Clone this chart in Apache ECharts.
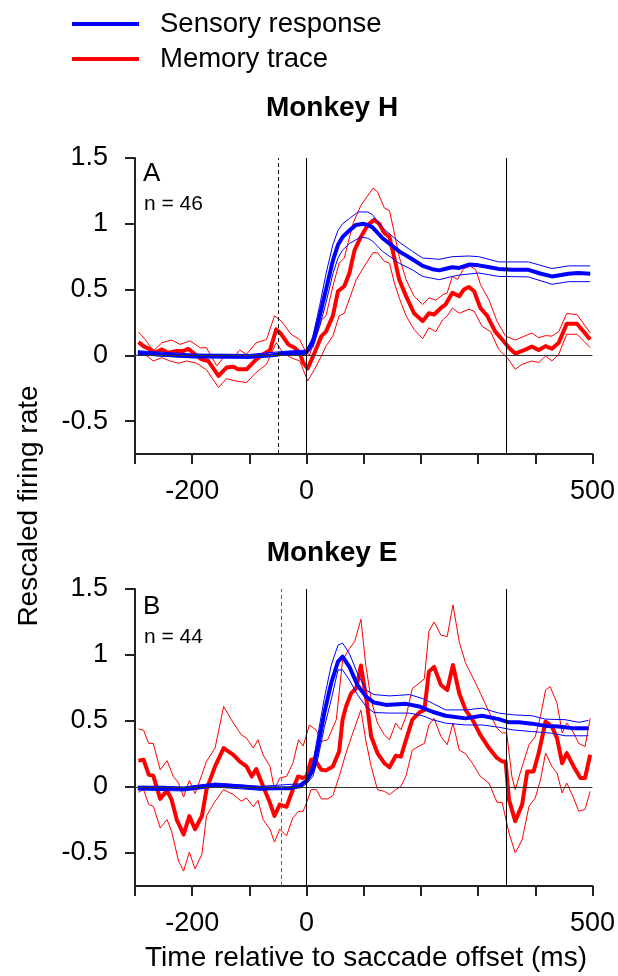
<!DOCTYPE html>
<html>
<head>
<meta charset="utf-8">
<script src="https://cdn.jsdelivr.net/npm/echarts@6/dist/echarts.min.js"></script>
<style>
  html, body { margin: 0; padding: 0; background: #fff; }
  #chart { width: 618px; height: 976px; }
</style>
</head>
<body>
<div id="chart"></div>
<script>
// Time axis (ms relative to saccade offset) and value axis settings
const timeTicks = [-300, -200, -100, 0, 100, 200, 300, 400, 500];
const timeLabels = [-200, 0, 500];
const rateTicks = [-0.5, 0, 0.5, 1, 1.5];

// Event markers (ms): dashed = saccade onset, solid = saccade offset and probe
const eventsH = { dashed: -49, solid: [0, 350] };
const eventsE = { dashed: -44, solid: [0, 350] };

// ---- Monkey H (panel A) ----
const sensMeanH = [[-295,0.02],[-250,0.005],[-200,-0.005],[-150,-0.005],[-100,-0.008],[-60,0.0],[-40,0.015],[-20,0.02],[-5,0.02],[0,0.025],[11,0.1],[23,0.3],[34,0.5],[46,0.72],[55,0.84],[63,0.9],[75,0.95],[86,0.99],[100,1.0],[107,0.99],[115,0.975],[133,0.89],[162,0.79],[185,0.73],[203,0.68],[220,0.655],[232,0.646],[245,0.66],[255,0.67],[267,0.664],[284,0.69],[301,0.684],[320,0.67],[336,0.657],[360,0.65],[388,0.65],[410,0.62],[429,0.6],[445,0.61],[458,0.62],[475,0.625],[496,0.62]];
const sensUpH = [[-295,0.035],[-200,0.01],[-100,0.007],[-40,0.03],[0,0.04],[11,0.14],[23,0.38],[34,0.62],[46,0.84],[55,0.95],[63,1.0],[75,1.04],[90,1.09],[107,1.09],[115,1.07],[133,0.97],[162,0.86],[185,0.79],[203,0.74],[232,0.73],[255,0.75],[284,0.755],[301,0.75],[336,0.71],[388,0.71],[429,0.66],[458,0.68],[496,0.68]];
const sensLoH = [[-295,0.005],[-200,-0.02],[-100,-0.023],[-40,0.0],[0,0.01],[11,0.06],[23,0.22],[34,0.4],[46,0.62],[55,0.74],[63,0.8],[75,0.85],[95,0.9],[107,0.89],[115,0.87],[133,0.79],[162,0.7],[185,0.65],[203,0.6],[232,0.575],[255,0.6],[267,0.61],[301,0.626],[336,0.6],[388,0.596],[429,0.54],[458,0.56],[496,0.56]];

const memMeanH = [[-294,0.1],[-284,0.066],[-273,0.045],[-265,0.02],[-253,0.045],[-242,0.02],[-227,0.033],[-215,0.033],[-207,0.05],[-195,0.008],[-184,-0.03],[-172,-0.043],[-154,-0.157],[-140,-0.093],[-128,-0.086],[-120,-0.106],[-105,-0.106],[-88,-0.03],[-76,0.008],[-64,0.038],[-53,0.197],[-44,0.16],[-32,0.083],[-21,0.058],[-12,0.02],[-6,-0.056],[2,-0.1],[5,-0.1],[14,0.02],[26,0.146],[34,0.18],[46,0.3],[55,0.487],[66,0.525],[75,0.626],[84,0.8],[95,0.9],[107,0.99],[118,1.03],[127,1.0],[136,0.93],[145,0.9],[153,0.75],[162,0.576],[174,0.45],[188,0.32],[203,0.26],[214,0.32],[223,0.31],[235,0.36],[243,0.386],[255,0.475],[267,0.45],[275,0.5],[284,0.52],[293,0.487],[304,0.36],[316,0.3],[330,0.18],[342,0.12],[354,0.058],[365,0.013],[377,0.033],[394,0.066],[406,0.04],[418,0.07],[429,0.05],[441,0.096],[455,0.24],[473,0.24],[496,0.12]];
const memUpH = [[-294,0.177],[-282,0.12],[-268,0.033],[-253,0.096],[-236,0.116],[-221,0.083],[-204,0.11],[-186,0.058],[-175,0.058],[-157,-0.08],[-143,-0.005],[-128,-0.018],[-117,0.04],[-105,0.008],[-88,0.096],[-70,0.12],[-56,0.3],[-44,0.26],[-27,0.16],[-12,0.12],[-3,0.04],[5,0.0],[14,0.12],[26,0.27],[34,0.3],[46,0.525],[57,0.7],[66,0.74],[81,1.0],[95,1.14],[116,1.27],[124,1.245],[136,1.12],[145,1.1],[153,0.94],[162,0.75],[174,0.576],[188,0.45],[203,0.386],[214,0.437],[226,0.42],[238,0.46],[246,0.475],[255,0.6],[264,0.576],[275,0.66],[287,0.677],[296,0.65],[304,0.54],[319,0.42],[333,0.26],[348,0.146],[365,0.116],[394,0.17],[406,0.134],[418,0.15],[429,0.146],[441,0.18],[455,0.318],[473,0.31],[496,0.17]];
const memLoH = [[-294,0.02],[-279,-0.005],[-268,-0.043],[-253,-0.018],[-239,-0.043],[-224,-0.06],[-210,-0.043],[-192,-0.06],[-175,-0.11],[-154,-0.245],[-140,-0.177],[-125,-0.194],[-105,-0.207],[-88,-0.13],[-70,-0.068],[-53,0.096],[-41,0.02],[-27,-0.018],[-12,-0.043],[2,-0.194],[5,-0.2],[14,-0.106],[26,-0.005],[34,0.07],[46,0.146],[57,0.3],[66,0.32],[87,0.576],[101,0.677],[116,0.78],[124,0.78],[136,0.715],[145,0.7],[153,0.56],[162,0.437],[174,0.3],[188,0.197],[203,0.126],[214,0.21],[226,0.18],[238,0.27],[246,0.3],[255,0.36],[267,0.32],[284,0.35],[293,0.336],[307,0.22],[322,0.18],[336,0.045],[351,-0.018],[365,-0.106],[377,-0.068],[394,-0.043],[406,-0.055],[418,-0.005],[429,-0.043],[441,0.008],[455,0.16],[473,0.16],[496,0.058]];

// ---- Monkey E (panel B) ----
const sensMeanE = [[-295,-0.008],[-250,-0.005],[-215,-0.015],[-160,0.015],[-120,0.005],[-80,-0.01],[-30,-0.01],[-10,0.01],[-6,0.03],[0,0.043],[11,0.13],[20,0.307],[31,0.56],[43,0.786],[55,0.95],[63,0.987],[75,0.91],[89,0.773],[104,0.685],[118,0.64],[139,0.622],[174,0.63],[197,0.61],[220,0.57],[243,0.54],[278,0.52],[307,0.54],[336,0.514],[354,0.49],[371,0.49],[394,0.48],[418,0.463],[441,0.458],[464,0.446],[493,0.446]];
const sensUpE = [[-295,0.007],[-215,0.0],[-160,0.03],[-80,0.005],[-10,0.025],[0,0.06],[11,0.18],[20,0.4],[31,0.67],[43,0.92],[55,1.075],[63,1.09],[75,1.01],[89,0.86],[104,0.735],[118,0.7],[145,0.69],[180,0.7],[203,0.67],[220,0.635],[243,0.584],[278,0.584],[307,0.597],[336,0.56],[360,0.547],[394,0.54],[418,0.514],[452,0.51],[476,0.49],[493,0.504]];
const sensLoE = [[-295,-0.023],[-215,-0.03],[-160,0.0],[-80,-0.025],[-10,-0.005],[0,0.025],[11,0.08],[20,0.22],[31,0.45],[43,0.66],[55,0.887],[63,0.887],[75,0.81],[89,0.7],[104,0.61],[118,0.564],[145,0.56],[180,0.56],[203,0.54],[220,0.51],[243,0.484],[278,0.47],[307,0.47],[336,0.453],[360,0.433],[394,0.42],[429,0.408],[452,0.388],[476,0.388],[493,0.388]];

const memMeanE = [[-294,0.2],[-285,0.207],[-276,0.093],[-268,0.086],[-256,-0.09],[-244,-0.025],[-236,-0.096],[-227,-0.247],[-215,-0.36],[-205,-0.22],[-195,-0.32],[-183,-0.22],[-175,-0.02],[-160,0.156],[-145,0.295],[-128,0.244],[-117,0.194],[-105,0.156],[-96,0.08],[-88,0.136],[-76,0.005],[-64,-0.12],[-56,-0.22],[-47,-0.133],[-35,-0.15],[-24,-0.02],[-15,0.08],[-6,0.068],[0,0.08],[8,0.207],[14,0.21],[26,0.13],[34,0.126],[46,0.156],[57,0.27],[63,0.51],[69,0.61],[78,0.71],[87,0.75],[95,0.92],[104,0.685],[113,0.383],[124,0.257],[136,0.18],[145,0.15],[156,0.237],[165,0.23],[174,0.358],[185,0.51],[197,0.564],[206,0.584],[214,0.874],[223,0.91],[235,0.773],[246,0.735],[256,0.924],[267,0.71],[278,0.584],[290,0.51],[304,0.395],[319,0.295],[333,0.22],[342,0.194],[348,0.194],[354,-0.096],[365,-0.26],[377,-0.133],[386,0.118],[397,0.118],[406,0.257],[418,0.496],[429,0.458],[438,0.37],[447,0.18],[455,0.257],[467,0.156],[479,0.068],[487,0.068],[496,0.244]];
const memUpE = [[-294,0.44],[-285,0.43],[-276,0.33],[-268,0.33],[-256,0.13],[-244,0.2],[-233,0.08],[-224,0.03],[-215,-0.076],[-205,0.05],[-195,-0.05],[-183,0.093],[-175,0.194],[-160,0.295],[-145,0.61],[-128,0.484],[-114,0.395],[-105,0.37],[-93,0.295],[-85,0.358],[-76,0.244],[-64,0.156],[-56,-0.02],[-47,0.068],[-35,0.08],[-24,0.18],[-14,0.358],[-6,0.31],[5,0.47],[8,0.47],[17,0.43],[26,0.345],[37,0.358],[52,0.51],[63,0.96],[75,1.05],[84,1.1],[95,1.27],[104,0.91],[113,0.66],[124,0.484],[136,0.395],[145,0.358],[156,0.484],[165,0.433],[174,0.534],[185,0.748],[197,0.786],[206,0.82],[214,1.18],[223,1.25],[235,1.15],[246,1.14],[256,1.38],[267,1.1],[278,0.94],[290,0.836],[304,0.71],[319,0.57],[333,0.446],[342,0.41],[350,0.41],[359,0.08],[365,-0.02],[377,0.156],[389,0.32],[400,0.383],[409,0.534],[418,0.735],[426,0.76],[438,0.635],[447,0.41],[455,0.484],[467,0.41],[476,0.33],[487,0.307],[496,0.52]];
const memLoE = [[-294,-0.04],[-285,-0.02],[-276,-0.133],[-268,-0.146],[-256,-0.31],[-244,-0.247],[-236,-0.335],[-224,-0.56],[-215,-0.637],[-205,-0.494],[-195,-0.62],[-183,-0.51],[-175,-0.22],[-160,-0.108],[-145,-0.02],[-128,-0.058],[-114,-0.108],[-105,-0.083],[-93,-0.15],[-85,-0.1],[-76,-0.247],[-64,-0.32],[-56,-0.418],[-47,-0.32],[-35,-0.37],[-24,-0.234],[-14,-0.184],[-6,-0.184],[0,-0.12],[8,-0.02],[17,-0.02],[26,-0.09],[37,-0.09],[46,-0.065],[57,0.08],[69,0.257],[81,0.41],[95,0.584],[104,0.345],[113,0.156],[124,-0.02],[136,-0.033],[145,-0.058],[156,-0.02],[165,0.005],[174,0.086],[185,0.28],[197,0.31],[206,0.33],[214,0.47],[223,0.52],[235,0.383],[246,0.32],[256,0.484],[267,0.28],[278,0.252],[290,0.18],[304,0.08],[319,0.03],[333,-0.116],[342,-0.116],[354,-0.348],[365,-0.5],[377,-0.4],[389,-0.146],[400,-0.083],[409,0.055],[418,0.257],[429,0.156],[438,0.106],[447,-0.045],[455,0.03],[467,-0.083],[476,-0.184],[487,-0.17],[496,-0.033]];

const BLUE = '#0000ff';
const RED = '#ff0000';
const FONT = "'Liberation Sans', Arial, Helvetica, sans-serif";

function trace(data, color, width, idx, name) {
  return {
    type: 'line', name: name, xAxisIndex: idx, yAxisIndex: idx,
    data: data, showSymbol: false, symbol: 'none', silent: true,
    lineStyle: { color: color, width: width, join: 'round' },
    itemStyle: { color: color },
    emphasis: { disabled: true }
  };
}

function eventLines(events, idx, dashColor) {
  // zero baseline plus the event markers of one panel
  return {
    type: 'line', name: 'events' + idx, xAxisIndex: idx, yAxisIndex: idx,
    data: [], silent: true, z: 1,
    markLine: {
      silent: true, symbol: 'none', animation: false,
      label: { show: false },
      data: [
        { yAxis: 0, lineStyle: { color: '#333', width: 1, type: 'solid' } },
        { xAxis: events.dashed, lineStyle: { color: dashColor, width: 1, type: [4, 3] } }
      ].concat(events.solid.map(t => ({ xAxis: t, lineStyle: { color: '#000', width: 1, type: 'solid' } })))
    }
  };
}

function xAxisFor(idx) {
  return {
    type: 'value', gridIndex: idx, min: -300, max: 500, interval: 100,
    axisLine: { onZero: false, lineStyle: { color: '#222', width: 2 } },
    axisTick: { show: true, length: 10, lineStyle: { color: '#222', width: 2 }, customValues: timeTicks },
    axisLabel: {
      fontFamily: FONT, fontSize: 27, color: '#000', margin: 24,
      formatter: v => (timeLabels.indexOf(v) >= 0 ? String(v) : '')
    },
    splitLine: { show: false }
  };
}

function yAxisFor(idx) {
  return {
    type: 'value', gridIndex: idx, min: -0.75, max: 1.5,
    axisLine: { show: true, onZero: false, lineStyle: { color: '#222', width: 2 } },
    axisTick: { show: true, length: 10, lineStyle: { color: '#222', width: 2 }, customValues: rateTicks },
    axisLabel: {
      fontFamily: FONT, fontSize: 27, color: '#000', margin: 27, customValues: rateTicks,
      formatter: v => (rateTicks.indexOf(v) >= 0 ? String(v) : '')
    },
    splitLine: { show: false }
  };
}

function label(x, y, str, font, align, extra) {
  return Object.assign({
    type: 'text', x: x, y: y, silent: true,
    style: { text: str, font: font + ' ' + FONT, fill: '#000', align: align, verticalAlign: 'middle' }
  }, extra || {});
}

const chart = echarts.init(document.getElementById('chart'), null, { renderer: 'canvas' });
chart.setOption({
  animation: false,
  backgroundColor: '#fff',
  legend: {
    data: ['Sensory response', 'Memory trace'],
    orient: 'vertical', left: 72, top: 10, padding: 0,
    icon: 'rect', itemWidth: 67, itemHeight: 4, itemGap: 7,
    selectedMode: false,
    textStyle: { fontFamily: FONT, fontSize: 27.5, color: '#000', lineHeight: 26, padding: [0, 0, 0, 16] }
  },
  grid: [
    { left: 135, top: 158, width: 459, height: 296, containLabel: false },
    { left: 135, top: 589, width: 459, height: 297, containLabel: false }
  ],
  xAxis: [xAxisFor(0), xAxisFor(1)],
  yAxis: [yAxisFor(0), yAxisFor(1)],
  graphic: [
    label(332, 108, 'Monkey H', 'bold 28px', 'center'),
    label(332, 553, 'Monkey E', 'bold 28px', 'center'),
    label(143, 174, 'A', '26px', 'left'),
    label(144, 204, 'n = 46', '21px', 'left'),
    label(143, 607, 'B', '26px', 'left'),
    label(144, 637, 'n = 44', '21px', 'left'),
    label(366, 958, 'Time relative to saccade offset (ms)', '28px', 'center'),
    label(29, 506, 'Rescaled firing rate', '28px', 'center', { rotation: Math.PI / 2 })
  ],
  series: [
    eventLines(eventsH, 0, '#111'),
    trace(memLoH, RED, 1, 0, 'memLoH'),
    trace(memUpH, RED, 1, 0, 'memUpH'),
    trace(memMeanH, RED, 4, 0, 'Memory trace'),
    trace(sensLoH, BLUE, 1, 0, 'sensLoH'),
    trace(sensUpH, BLUE, 1, 0, 'sensUpH'),
    trace(sensMeanH, BLUE, 4, 0, 'Sensory response'),
    eventLines(eventsE, 1, '#666'),
    trace(memLoE, RED, 1, 1, 'memLoE'),
    trace(memUpE, RED, 1, 1, 'memUpE'),
    trace(memMeanE, RED, 4, 1, 'Memory trace'),
    trace(sensLoE, BLUE, 1, 1, 'sensLoE'),
    trace(sensUpE, BLUE, 1, 1, 'sensUpE'),
    trace(sensMeanE, BLUE, 4, 1, 'Sensory response')
  ]
});
</script>
</body>
</html>
